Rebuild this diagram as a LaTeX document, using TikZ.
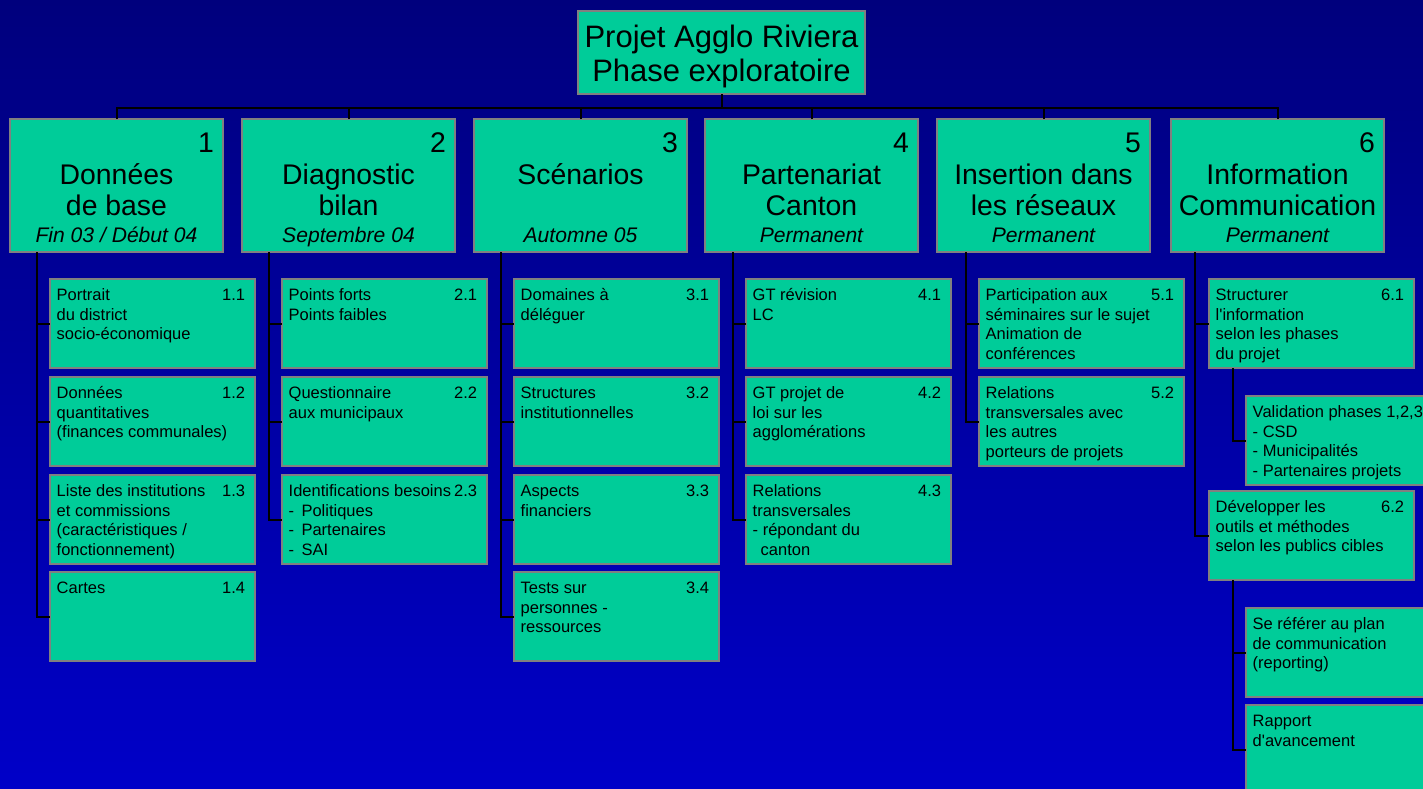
\documentclass[tikz,border=0pt]{standalone}
\usepackage{fontspec}
\setmainfont{Liberation Sans}
\definecolor{boxgreen}{RGB}{0,204,153}
\definecolor{boxgray}{RGB}{128,128,128}
\definecolor{bgtop}{RGB}{0,0,125}
\definecolor{bgbot}{RGB}{0,0,200}
\tikzset{
  box/.style={rectangle, draw=boxgray, line width=1.5pt, fill=boxgreen, inner sep=0pt, outer sep=0pt, anchor=north west},
  topbox/.style={box, minimum width=287pt, minimum height=83pt},
  headbox/.style={box, minimum width=213pt, minimum height=133pt},
  subbox/.style={box, minimum width=205pt, minimum height=89pt},
  link/.style={line width=2pt, black},
  toptext/.style={inner sep=0pt, anchor=north, align=center, font=\fontsize{31}{34}\selectfont},
  headnum/.style={inner sep=0pt, anchor=base east, font=\fontsize{28.4}{31.5}\selectfont},
  headtitle/.style={inner sep=0pt, anchor=north, align=center, font=\fontsize{28.4}{31.5}\selectfont},
  headdate/.style={inner sep=0pt, anchor=base, font=\fontsize{21.1}{25}\selectfont\itshape},
  subtext/.style={inner sep=0pt, anchor=north west, align=left, font=\fontsize{16.5}{19.5}\selectfont},
  subnum/.style={inner sep=0pt, anchor=base west, font=\fontsize{16.5}{19.5}\selectfont}
}
\newcommand\headnode[5]{%
  \node[headbox] (#1) at (#2,119) {};
  \node[headnum] (#1n) at ([xshift=-9pt,yshift=-33.3pt]#1.north east) {#3};
  \node[headtitle] (#1t) at ([yshift=-43pt]#1.north) {\strut #4};
  \node[headdate] (#1d) at ([yshift=-123.3pt]#1.north) {#5};
}
\newcommand\subnode[5]{%
  \node[subbox] (#1) at (#2,#3) {};
  \node[subtext] (#1t) at ([xshift=6.5pt,yshift=-8pt]#1.north west) {\strut #5};
  \node[subnum] (#1n) at ([xshift=172pt,yshift=-21.7pt]#1.north west) {#4};
}
\newcommand\plainsub[4]{%
  \node[subbox] (#1) at (#2,#3) {};
  \node[subtext] (#1t) at ([xshift=6.5pt,yshift=-8pt]#1.north west) {\strut #4};
}
\begin{document}
\begin{tikzpicture}[x=1pt,y=-1pt]
\useasboundingbox (0,0) rectangle (1423,788);
\shade[top color=bgtop, bottom color=bgbot] (0,0) rectangle (1423,788);

% top
\node[topbox] (top) at (578,11) {};
\node[toptext] (topt) at ([yshift=-12.5pt]top.north) {\strut Projet Agglo Riviera\\Phase exploratoire};

% level 1
\headnode{L1}{10}{1}{Données\\de base}{Fin 03 / Début 04}
\headnode{L2}{242}{2}{Diagnostic\\bilan}{Septembre 04}
\headnode{L3}{474}{3}{Scénarios}{Automne 05}
\headnode{L4}{705}{4}{Partenariat\\Canton}{Permanent}
\headnode{L5}{937}{5}{Insertion dans\\les réseaux}{Permanent}
\headnode{L6}{1171}{6}{Information\\Communication}{Permanent}

% column 1
\subnode{a11}{50}{279}{1.1}{Portrait\\du district\\socio-économique}
\subnode{a12}{50}{377}{1.2}{Données\\quantitatives\\(finances communales)}
\subnode{a13}{50}{475}{1.3}{Liste des institutions\\et commissions\\(caractéristiques /\\fonctionnement)}
\subnode{a14}{50}{572}{1.4}{Cartes}
% column 2
\subnode{a21}{282}{279}{2.1}{Points forts\\Points faibles}
\subnode{a22}{282}{377}{2.2}{Questionnaire\\aux municipaux}
\subnode{a23}{282}{475}{2.3}{Identifications besoins\\-\ \,Politiques\\-\ \,Partenaires\\-\ \,SAI}
% column 3
\subnode{a31}{514}{279}{3.1}{Domaines à\\déléguer}
\subnode{a32}{514}{377}{3.2}{Structures\\institutionnelles}
\subnode{a33}{514}{475}{3.3}{Aspects\\financiers}
\subnode{a34}{514}{572}{3.4}{Tests sur\\personnes -\\ressources}
% column 4
\subnode{a41}{746}{279}{4.1}{GT révision\\LC}
\subnode{a42}{746}{377}{4.2}{GT projet de\\loi sur les\\agglomérations}
\subnode{a43}{746}{475}{4.3}{Relations\\transversales\\- répondant du\\\hspace*{8pt}canton}
% column 5
\subnode{a51}{979}{279}{5.1}{Participation aux\\séminaires sur le sujet\\Animation de\\conférences}
\subnode{a52}{979}{377}{5.2}{Relations\\transversales avec\\les autres\\porteurs de projets}
% column 6
\subnode{a61}{1209}{279}{6.1}{Structurer\\l\textquotesingle information\\selon les phases\\du projet}
\plainsub{b61}{1246}{396}{Validation phases 1,2,3\\- CSD\\- Municipalités\\- Partenaires projets}
\subnode{a62}{1209}{491}{6.2}{Développer les\\outils et méthodes\\selon les publics cibles}
\plainsub{b62}{1246}{608}{Se référer au plan\\de communication\\(reporting)}
\plainsub{b63}{1246}{705}{Rapport\\d\textquotesingle avancement}

% connectors
\coordinate (bus) at (0,108);
\draw[link] (top.south) -- (top.south |- bus);
\draw[link] (L1.north) -- (L1.north |- bus) -- (L6.north |- bus) -- (L6.north);
\foreach \n in {L2,L3,L4,L5} \draw[link] (\n.north) -- (\n.north |- bus);

\draw[link] ([xshift=-13.5pt]a11.west |- L1.south) |- (a14.west);
\foreach \k in {a11,a12,a13} \draw[link] ([xshift=-13.5pt]\k.west) -- (\k.west);
\draw[link] ([xshift=-13.5pt]a21.west |- L2.south) |- (a23.west);
\foreach \k in {a21,a22} \draw[link] ([xshift=-13.5pt]\k.west) -- (\k.west);
\draw[link] ([xshift=-13.5pt]a31.west |- L3.south) |- (a34.west);
\foreach \k in {a31,a32,a33} \draw[link] ([xshift=-13.5pt]\k.west) -- (\k.west);
\draw[link] ([xshift=-13.5pt]a41.west |- L4.south) |- (a43.west);
\foreach \k in {a41,a42} \draw[link] ([xshift=-13.5pt]\k.west) -- (\k.west);
\draw[link] ([xshift=-13.5pt]a51.west |- L5.south) |- (a52.west);
\draw[link] ([xshift=-13.5pt]a51.west) -- (a51.west);
\draw[link] ([xshift=-14pt]a61.west |- L6.south) |- (a62.west);
\draw[link] ([xshift=-14pt]a61.west) -- (a61.west);
\draw[link] ([xshift=-13pt]b61.west |- a61.south) |- (b61.west);
\draw[link] ([xshift=-13pt]b62.west |- a62.south) |- (b63.west);
\draw[link] ([xshift=-13pt]b62.west) -- (b62.west);
\end{tikzpicture}
\end{document}
